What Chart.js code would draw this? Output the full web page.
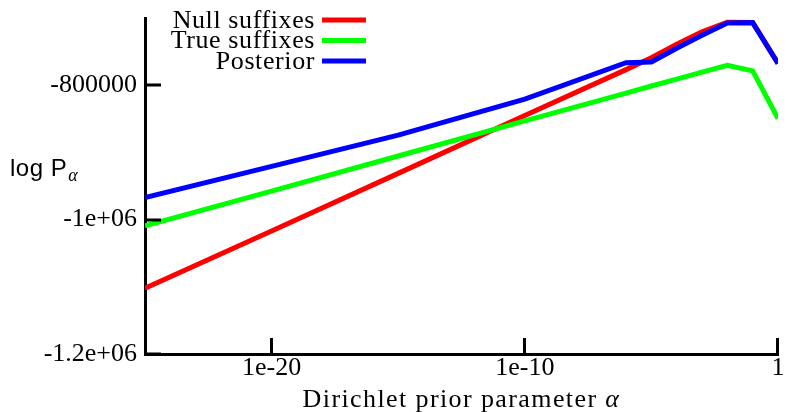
<!DOCTYPE html>
<html>
<head>
<meta charset="utf-8">
<script src="https://cdn.jsdelivr.net/npm/chart.js@4.4.1/dist/chart.umd.min.js"></script>
<style>
  html, body { margin: 0; padding: 0; background: #fff; }
  #wrap { width: 788px; height: 412px; }
</style>
</head>
<body>
<div id="wrap"><canvas id="chart" width="788" height="412"></canvas></div>
<script>
// data
var alphaValues  = [1e-25, 1e-20, 1e-15, 1e-10, 1e-6, 1e-5, 1e-4, 1e-3, 1e-2, 1e-1, 1];
var nullSuffixes = [-1102300, -1017100, -931200, -845200, -776800, -759100, -739000, -720500, -706300, -706600, -767500];
var trueSuffixes = [-1009200, -957500, -905400, -853200, -811900, -801200, -790900, -780600, -770300, -778700, -849500];
var posterior    = [-967300, -920900, -874400, -820800, -766500, -765500, -745000, -725700, -707400, -706900, -767700];

var seriesNames  = ["Null suffixes", "True suffixes", "Posterior"];
var seriesColors = ["#ff0000", "#00ff00", "#0000ff"];

var xTickValues = [1e-20, 1e-10, 1];
var xTickLabels = ["1e-20", "1e-10", "1"];
var yTickValues = [-1200000, -1000000, -800000];
var yTickLabels = ["-1.2e+06", "-1e+06", "-800000"];

var serif = "'Liberation Serif', 'Times New Roman', serif";

function toPoints(ys)
{
  return alphaValues.map(function(a, i) { return {x: a, y: ys[i]}; });
}

// inward ticks, legend and axis titles
var extras = {
  id: "extras",
  afterDraw: function(chart)
  {
    var ctx = chart.ctx;
    var xs = chart.scales.x, ys = chart.scales.y;
    var area = chart.chartArea;
    ctx.save();
    ctx.strokeStyle = "#000";
    ctx.lineWidth = 3;
    ctx.beginPath();
    for (var i = 0; i < xTickValues.length; i++)
    {
      var px = Math.round(xs.getPixelForValue(xTickValues[i])) - 0.5;
      ctx.moveTo(px, area.bottom);
      ctx.lineTo(px, area.bottom - 16);
    }
    for (var j = 0; j < yTickValues.length; j++)
    {
      var py = Math.round(ys.getPixelForValue(yTickValues[j]));
      ctx.moveTo(area.left, py);
      ctx.lineTo(area.left + 16, py);
    }
    ctx.stroke();

    // legend
    ctx.font = "26px " + serif;
    ctx.letterSpacing = "0.6px";
    ctx.textAlign = "right";
    ctx.textBaseline = "middle";
    ctx.fillStyle = "#000";
    for (var k = 0; k < seriesNames.length; k++)
    {
      var ly = 20 + k * 20.5;
      ctx.fillText(seriesNames[k], 315, ly + 1);
      ctx.strokeStyle = seriesColors[k];
      ctx.lineWidth = 5;
      ctx.beginPath();
      ctx.moveTo(322, ly);
      ctx.lineTo(366, ly);
      ctx.stroke();
    }

    // x title
    ctx.letterSpacing = "1.4px";
    ctx.textAlign = "left";
    ctx.textBaseline = "alphabetic";
    var t1 = "Dirichlet prior parameter ";
    ctx.font = "26px " + serif;
    var w1 = ctx.measureText(t1).width;
    ctx.font = "italic 26px " + serif;
    var w2 = ctx.measureText("\u03b1").width;
    var tx = (area.left + area.right) / 2 - (w1 + w2) / 2;
    ctx.font = "26px " + serif;
    ctx.fillText(t1, tx, 407);
    ctx.font = "italic 26px " + serif;
    ctx.fillText("\u03b1", tx + w1, 407);

    // y title
    ctx.letterSpacing = "0.5px";
    ctx.font = "24px 'Liberation Sans', Arial, sans-serif";
    ctx.fillText("log P", 10, 176);
    var wl = ctx.measureText("log P").width;
    ctx.letterSpacing = "0px";
    ctx.font = "italic 18px " + serif;
    ctx.fillText("\u03b1", 11 + wl, 181);
    ctx.restore();
  }
};

var datasets = [];
for (var s = 0; s < seriesNames.length; s++)
{
  datasets.push({
    label: seriesNames[s],
    data: toPoints([nullSuffixes, trueSuffixes, posterior][s]),
    borderColor: seriesColors[s],
    backgroundColor: seriesColors[s],
    borderWidth: 5,
    pointRadius: 0,
    tension: 0,
    fill: false,
    order: seriesNames.length - s
  });
}

new Chart(document.getElementById("chart"), {
  type: "line",
  data: { datasets: datasets },
  options: {
    responsive: false,
    animation: false,
    devicePixelRatio: 1,
    layout: { padding: { top: 18, right: 10, left: 0, bottom: 0 } },
    plugins: { legend: { display: false }, tooltip: { enabled: false } },
    scales: {
      x: {
        type: "logarithmic",
        min: 1e-25,
        max: 1,
        grid: { display: false, drawTicks: false },
        border: { display: true, color: "#000", width: 3 },
        afterBuildTicks: function(scale) {
          scale.ticks = xTickValues.map(function(v) { return {value: v}; });
        },
        afterFit: function(scale) {
          scale.height = 58;
          scale.paddingLeft = 0;
          scale.paddingRight = 0;
        },
        ticks: {
          autoSkip: false,
          maxRotation: 0,
          padding: -1,
          color: "#000",
          font: { family: serif, size: 26 },
          callback: function(v) {
            var i = xTickValues.indexOf(v);
            return i >= 0 ? xTickLabels[i] : "";
          }
        }
      },
      y: {
        type: "linear",
        min: -1200000,
        max: -700000,
        grid: { display: false, drawTicks: false },
        border: { display: true, color: "#000", width: 3 },
        afterBuildTicks: function(scale) {
          scale.ticks = yTickValues.map(function(v) { return {value: v}; });
        },
        afterFit: function(scale) {
          scale.width = 145;
          scale.paddingTop = 0;
          scale.paddingBottom = 0;
        },
        ticks: {
          padding: 8,
          color: "#000",
          font: { family: serif, size: 26 },
          callback: function(v) {
            var i = yTickValues.indexOf(v);
            return i >= 0 ? yTickLabels[i] : "";
          }
        }
      }
    }
  },
  plugins: [extras]
});
</script>
</body>
</html>
